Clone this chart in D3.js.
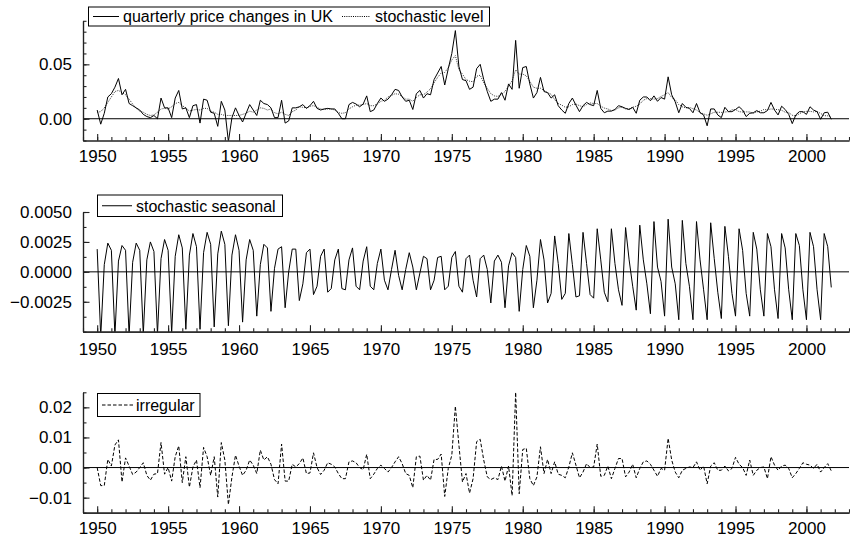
<!DOCTYPE html>
<html><head><meta charset="utf-8">
<script src="https://cdn.jsdelivr.net/npm/d3@7"></script>
<style>
body{margin:0;background:#fff}
svg{display:block}
text{font-family:"Liberation Sans",Arial,Helvetica,sans-serif;fill:#000}
</style>
</head><body>
<svg id="chart" width="850" height="541"></svg>
<script>
// ---------- DATA (quarterly, 1950 Q1 .. 2001 Q4) ----------
const startYear = 1950;
const quartersPerYear = 4;

const price = [
 .008,-.005,.005,.020,  .023,.029,.037,.022,  .027,.014,.012,.010,  .008,.004,.002,.001,
 .003,.000,.019,.010,   .010,.001,.019,.026,  .009,.010,.001,.012,  .013,-.004,.018,.017,
 .006,.005,-.007,.016,  .008,-.021,.001,.010, .003,-.003,.005,.013, .008,.003,.017,.014,
 .013,.010,.001,.001,   .017,-.004,-.002,.010, .010,.011,.013,.0095, .012,.016,.0095,.008,
 .009,.0095,.009,.009,  .005,.000,.000,.013,  .015,.0135,.011,.0135, .021,.0065,.008,.014,
 .019,.016,.018,.022,   .027,.026,.020,.016,  .017,.0085,.023,.026, .019,.023,.022,.036,
 .042,.048,.031,.046,   .060,.081,.048,.036,  .035,.027,.029,.046,  .050,.036,.025,.016,
 .018,.018,.024,.017,   .032,.027,.072,.028,  .047,.048,.032,.019,  .024,.038,.025,.024,
 .019,.022,.012,.008,   .005,.014,.019,.0125, .0065,.012,.015,.013, .012,.026,.0095,.0055,
 .007,.007,.0085,.012,  .011,.0095,.0085,.0105, .005,.017,.020,.020, .0165,.021,.016,.0195,
 .018,.0385,.022,.0155, .0055,.014,.0105,.0095, .0055,.014,.0055,.0035, -.0065,.009,.009,.0035,
 .001,.0105,.0065,.0065, .0085,.011,.008,.002, .005,.0055,.0075,.0055, .0055,.0075,.015,.008,
 .0035,.0115,.0085,.004, -.0045,.0035,.0065,.0065, .004,.011,.008,.0065, -.0005,.0055,.006,-.0005
];

const level = [
 .006,.0065,.010,.015,  .020,.025,.026,.024,  .022,.018,.0135,.0095, .007,.006,.004,.003,
 .0035,.006,.009,.0095, .009,.011,.014,.015,  .012,.010,.007,.008,  .0085,.008,.0095,.0095,
 .007,.006,.004,.004,   .003,.003,.003,.003,  .003,.004,.005,.007,  .006,.008,.010,.0095,
 .008,.009,.0055,.0045, .006,.004,.003,.0065, .008,.011,.0105,.010, .0115,.012,.0105,.009,
 .0085,.009,.009,.008,  .0055,.005,.0055,.009, .011,.0125,.0125,.013, .014,.012,.012,.0135,
 .016,.017,.020,.0215,  .023,.0225,.0205,.018, .018,.016,.0195,.022, .022,.0245,.0275,.033,
 .038,.042,.0425,.047,  .054,.058,.045,.041,  .036,.0345,.034,.039, .040,.033,.028,.023,
 .021,.0205,.0225,.025, .030,.035,.045,.041,  .041,.0395,.0345,.029, .028,.028,.026,.024,
 .0225,.0175,.014,.0125, .0105,.011,.013,.0135, .012,.011,.013,.0145, .014,.014,.0115,.0098,
 .009,.0075,.008,.010,  .0105,.009,.009,.0105, .0115,.0135,.017,.0185, .0185,.018,.0185,.0205,
 .022,.024,.0195,.0175, .013,.011,.010,.0103, .0093,.008,.0057,.0045, .0032,.0045,.006,.006,
 .0058,.0062,.0065,.0082, .0085,.0065,.0062,.0063, .0062,.005,.0063,.0069, .0085,.0082,.009,.0087,
 .0083,.0078,.006,.0057, .0032,.0026,.0046,.0062, .0068,.0068,.0063,.0067, .0049,.0028,.0027,.002
];

const seasonal = [
 .0019,-.0054,.0006,.0024,  .0018,-.0053,.0009,.0022,  .0018,-.0053,.0008,.0024,  .0018,-.0052,.0010,.0025,
 .0017,-.0052,.0011,.0027,  .0018,-.0051,.0013,.0031,  .0020,-.0048,.0014,.0032,  .0021,-.0048,.0016,.0033,
 .0023,-.0046,.0015,.0034,  .0023,-.0045,.0014,.0031,  .0018,-.0042,.0010,.0027,  .0018,-.0037,.0006,.0023,
 .0020,-.0033,.0003,.0019,  .0021,-.0030,.0000,.0019,  .0019,-.0024,-.0010,.0016, .0019,-.0019,-.0012,.0013,
 .0019,-.0017,-.0014,.0010, .0019,-.0014,-.0015,.0010, .0020,-.0012,-.0015,.0009, .0021,-.0012,-.0015,.0007,
 .0019,-.0007,-.0015,.0002, .0018,-.0003,-.0015,.0002, .0016,.0004,-.0015,-.0001,  .0013,.0011,-.0015,-.0007,
 .0012,.0013,-.0015,-.0012, .0012,.0017,-.0012,-.0017, .0011,.0014,-.0007,-.0021,  .0011,.0014,.0002,-.0026,
 .0009,.0014,.0008,-.0030,  .0005,.0016,.0012,-.0033,  .0002,.0022,.0013,-.0030,   -.0007,.0027,.0010,-.0026,
 -.0018,.0030,.0007,-.0023, -.0018,.0032,.0006,-.0021, -.0020,.0033,.0007,-.0019, -.0022,.0036,.0010,-.0017,
 -.0025,.0036,.0007,-.0015, -.0028,.0037,.0010,-.0012, -.0032,.0039,.0010,-.0010, -.0035,.0042,.0004,-.0008,
 -.0037,.0044,.0004,-.0010, -.0040,.0043,.0007,-.0012, -.0040,.0042,.0010,-.0015, -.0040,.0041,.0011,-.0017,
 -.0039,.0038,.0013,-.0018, -.0037,.0036,.0018,-.0018, -.0037,.0033,.0019,-.0015, -.0037,.0032,.0021,-.0015,
 -.0039,.0032,.0020,-.0015, -.0040,.0032,.0022,-.0015, -.0040,.0033,.0021,-.0015, -.0040,.0032,.0021,-.0013
];

const irregular = [
 0,-.006,-.006,.0027,      .0005,.0075,.0092,-.0048,  .0032,.0005,-.0023,-.0015, 0,.0016,-.0026,-.0042,
 -.0022,-.002,.0083,-.0022, 0,-.0045,.0036,.0072,     -.005,.0036,-.0065,.0002,  .0025,-.0067,.0067,.0036,
 -.0026,.0036,-.0098,.0083, .0025,-.0123,-.0031,.0041, .0005,-.0026,-.0009,.0025, .0008,-.002,.0058,.0025,
 .0036,.0011,-.004,-.0054,  .0078,-.0045,-.0045,.0011, .0002,.0013,.0032,-.002,  -.0018,.0049,0,-.0023,
 -.0009,.0016,.0011,.0002,  -.002,-.0037,-.0037,.0019, .0022,.0016,0,-.0007,     .0044,-.0037,-.0022,-.0003,
 .0008,-.0003,-.0015,0,     .0019,.0036,.0013,-.002,  -.0026,-.0067,.0036,.0038, -.0042,-.0026,-.0042,.0027,
 .0027,.0045,-.0096,-.0003, .0041,.0204,.0075,-.0048, -.002,-.0085,-.0037,.0086, .0094,.0025,-.0031,-.004,
 -.0034,-.004,.0005,-.0045, .0005,-.0093,.025,-.0087, .006,.0064,-.0037,-.006,   -.0031,.0069,-.002,.0027,
 -.002,.0019,-.0022,-.0026, -.0034,.0002,.0049,.0008, -.0034,-.0015,.0013,0,     .0002,.0078,-.0029,-.0026,
 .0005,-.0037,-.0003,.003,  .003,-.0031,-.0015,.0011, -.0034,-.0003,.0019,.0022, .0011,-.0009,-.0029,-.0003,
 -.0009,.0097,.0025,-.0015, -.0034,-.0009,-.0003,.0002, 0,.0019,-.0009,.0005,    -.0054,.0005,.0016,-.0009,
 -.0009,.0005,-.0011,-.0003, .0034,.0011,0,-.0026,    .0025,-.0026,-.0009,0,     .0002,-.0037,.0036,.0008,
 -.0009,.0005,.0008,-.0003, -.0034,-.002,-.0003,.0016, .0011,.0008,-.0003,.0011, -.0015,0,.0013,-.0011
];

const xTickYears  = [1950,1955,1960,1965,1970,1975,1980,1985,1990,1995,2000];
const xTickLabels = ["1950","1955","1960","1965","1970","1975","1980","1985","1990","1995","2000"];
const y1Ticks = [0, 0.05];            const y1Labels = ["0.00","0.05"];
const y2Ticks = [-0.0025,0,0.0025,0.005]; const y2Labels = ["\u22120.0025","0.0000","0.0025","0.0050"];
const y3Ticks = [-0.01,0,0.01,0.02];  const y3Labels = ["\u22120.01","0.00","0.01","0.02"];

// ---------- DRAWING ----------
const svg = d3.select("#chart");
const X0 = 83, X1 = 849;
const x = d3.scaleLinear().domain([1949, 2003]).range([X0, X1]);
const t = i => startYear + i / quartersPerYear;

const panels = [
  {top:20.8, bottom:140.5, domain:[-0.02,0.09], minorStep:0.01, ticks:y1Ticks, labels:y1Labels, xPad:9,
   series:[{data:level, dash:"1,1.2", w:1, color:"#333"},{data:price, dash:null, w:1, color:"#000"}],
   legend:{x:88.5, y:7, w:401, h:19, items:[
     {x1:93,x2:119,tx:123,text:"quarterly price changes in UK",dash:null},
     {x1:342,x2:370,tx:375,text:"stochastic level",dash:"1,1.2"}]}},
  {top:212, bottom:331.7, domain:[-0.005,0.005], minorStep:0.00125, ticks:y2Ticks, labels:y2Labels, xPad:11.5,
   series:[{data:seasonal, dash:null, w:1, color:"#000"}],
   legend:{x:97.5, y:195, w:185, h:21.5, items:[
     {x1:102,x2:132,tx:136,text:"stochastic seasonal",dash:null}]}},
  {top:392.3, bottom:512.7, domain:[-0.015,0.025], minorStep:0.005, ticks:y3Ticks, labels:y3Labels, xPad:9.5,
   series:[{data:irregular, dash:"3.5,2", w:1, color:"#000"}],
   legend:{x:97.5, y:393.5, w:102.5, h:23, items:[
     {x1:102,x2:133,tx:136,text:"irregular",dash:"3.5,2"}]}}
];

const minorYears = d3.range(1949, 2004);

panels.forEach((p, pi) => {
  const y = d3.scaleLinear().domain(p.domain).range([p.bottom, p.top]);
  const g = svg.append("g");
  const clipId = "clip" + pi;
  svg.append("clipPath").attr("id", clipId).append("rect")
    .attr("x", X0).attr("y", p.top).attr("width", X1 - X0).attr("height", p.bottom - p.top);

  // zero line
  g.append("line").attr("x1", X0).attr("x2", X1).attr("y1", y(0)).attr("y2", y(0))
    .attr("stroke", "#000").attr("stroke-width", 1);

  // series
  const line = d3.line().x((d, i) => x(t(i))).y(d => y(d));
  p.series.forEach(s => {
    g.append("path").datum(s.data).attr("d", line)
      .attr("clip-path", `url(#${clipId})`)
      .attr("fill", "none").attr("stroke", s.color).attr("stroke-width", s.w)
      .attr("stroke-dasharray", s.dash).attr("stroke-linejoin", "miter");
  });

  // y axis
  const nMinor = Math.round((p.domain[1] - p.domain[0]) / p.minorStep);
  const yMinor = d3.range(nMinor + 1).map(k => p.domain[0] + k * p.minorStep);
  const yA = g.append("g").attr("transform", `translate(${X0},0)`);
  yA.call(d3.axisLeft(y).tickValues(yMinor).tickSize(-3.5).tickSizeOuter(0).tickFormat(""));
  yA.append("g").call(d3.axisLeft(y).tickValues(p.ticks).tickSize(-6.5).tickSizeOuter(0).tickPadding(11)
      .tickFormat((d, i) => p.labels[i]));
  // x axis
  const xA = g.append("g").attr("transform", `translate(0,${p.bottom})`);
  xA.call(d3.axisBottom(x).tickValues(minorYears).tickSize(-3.5).tickSizeOuter(0).tickFormat(""));
  xA.append("g").call(d3.axisBottom(x).tickValues(xTickYears).tickSize(-6.5).tickSizeOuter(0).tickPadding(p.xPad)
      .tickFormat((d, i) => xTickLabels[i]));

  g.selectAll(".domain").attr("stroke", "#222").attr("stroke-width", 1.2);
  g.selectAll(".tick line").attr("stroke", "#222").attr("stroke-width", 1.1);
  g.selectAll(".tick text").attr("font-size", 17).attr("fill", "#000")
    .attr("font-family", '"Liberation Sans",Arial,sans-serif');

  // legend
  const L = p.legend;
  const lg = g.append("g");
  lg.append("rect").attr("x", L.x).attr("y", L.y).attr("width", L.w).attr("height", L.h)
    .attr("fill", "#fff").attr("stroke", "#000").attr("stroke-width", 1);
  L.items.forEach(it => {
    const cy = L.y + L.h / 2;
    lg.append("line").attr("x1", it.x1).attr("x2", it.x2).attr("y1", cy).attr("y2", cy)
      .attr("stroke", "#000").attr("stroke-width", 1).attr("stroke-dasharray", it.dash);
    lg.append("text").attr("x", it.tx).attr("y", cy).attr("dy", "0.36em")
      .attr("font-size", 16).text(it.text);
  });
});
</script>
</body></html>
